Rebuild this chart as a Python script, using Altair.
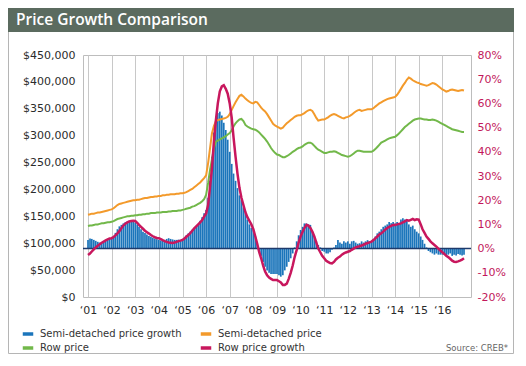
import altair as alt
import pandas as pd

# ---- data (monthly, Jan 2001 .. Dec 2016) ----
months = pd.date_range("2001-01-01", "2016-12-01", freq="MS")

# Semi-detached price, $ thousands
semi_price_k = [
    153, 154, 155, 155, 156, 157, 157, 158, 159, 160, 161, 162,   # 2001
    163, 165, 168, 171, 173, 174, 175, 176, 177, 178, 179, 180,   # 2002
    180, 181, 181, 182, 183, 184, 184, 185, 186, 186, 187, 187,   # 2003
    188, 188, 189, 189, 190, 190, 191, 191, 191, 192, 192, 193,   # 2004
    193, 194, 195, 197, 199, 201, 204, 207, 210, 213, 217, 221,   # 2005
    226, 249, 275, 304, 318, 327, 329, 330, 331, 332, 333, 335,   # 2006
    340, 348, 355, 362, 368, 374, 376, 373, 369, 366, 363, 361,   # 2007
    360, 363, 362, 357, 352, 348, 345, 340, 334, 328, 322, 319,   # 2008
    317, 315, 313, 315, 319, 323, 326, 329, 332, 335, 337, 338,   # 2009
    338, 340, 342, 345, 347, 348, 346, 340, 333, 328, 329, 330,   # 2010
    330, 332, 334, 337, 339, 340, 339, 337, 335, 333, 332, 334,   # 2011
    335, 337, 339, 342, 345, 347, 348, 346, 347, 348, 349, 349,   # 2012
    349, 351, 354, 357, 360, 362, 364, 366, 368, 369, 370, 371,   # 2013
    372, 376, 381, 387, 393, 398, 404, 408, 406, 403, 401, 399,   # 2014
    398, 396, 395, 394, 393, 394, 396, 398, 397, 395, 392, 389,   # 2015
    386, 384, 382, 383, 385, 386, 385, 384, 383, 384, 385, 384,   # 2016
]

# Row price, $ thousands
row_price_k = [
    132, 133, 133, 134, 135, 135, 136, 137, 137, 138, 139, 139,   # 2001
    140, 141, 143, 145, 146, 147, 148, 149, 150, 150, 151, 151,   # 2002
    152, 152, 153, 153, 154, 154, 155, 155, 156, 156, 156, 157,   # 2003
    157, 157, 158, 158, 158, 159, 159, 160, 160, 160, 161, 161,   # 2004
    162, 163, 164, 165, 166, 168, 169, 171, 173, 175, 178, 182,   # 2005
    190, 212, 235, 256, 276, 289, 291, 293, 295, 297, 299, 302,   # 2006
    305, 310, 317, 323, 327, 330, 331, 327, 320, 317, 315, 313,   # 2007
    312, 311, 309, 306, 302, 298, 294, 289, 283, 277, 272, 268,   # 2008
    265, 264, 262, 260, 260, 262, 264, 267, 270, 272, 275, 277,   # 2009
    278, 280, 283, 285, 287, 287, 285, 281, 277, 274, 272, 270,   # 2010
    268, 268, 269, 270, 270, 271, 270, 268, 266, 264, 263, 262,   # 2011
    261, 262, 264, 267, 270, 272, 272, 271, 270, 270, 270, 270,   # 2012
    270, 272, 275, 279, 283, 287, 289, 291, 293, 295, 296, 297,   # 2013
    298, 301, 304, 308, 312, 316, 319, 322, 325, 328, 330, 331,   # 2014
    332, 332, 331, 330, 330, 329, 329, 330, 329, 328, 326, 324,   # 2015
    322, 320, 318, 316, 314, 312, 311, 310, 309, 308, 307, 307,   # 2016
]

# Row price growth, %
row_growth = [
    -2.6, -2.0, -1.2, -0.3, 0.5, 1.2, 1.8, 2.4, 2.9, 3.4, 3.8, 4.2,        # 2001
    4.3, 4.8, 5.5, 6.3, 7.2, 8.4, 9.5, 10.3, 10.8, 11.2, 11.4, 11.5,       # 2002
    11.4, 10.6, 9.8, 9.0, 8.2, 7.4, 6.8, 6.2, 5.6, 5.1, 4.7, 4.4,          # 2003
    4.3, 3.9, 3.5, 3.1, 2.8, 2.5, 2.4, 2.3, 2.5, 2.8, 3.1, 3.3,            # 2004
    3.6, 4.2, 4.9, 5.6, 6.4, 7.4, 8.4, 9.2, 10.0, 10.8, 11.8, 13.2,        # 2005
    14.5, 18, 25, 33, 44, 53, 60, 65, 67, 67.5, 66, 64,                     # 2006
    60, 54, 46, 38, 31, 25, 21, 18, 15, 13, 11.5, 10,                       # 2007
    8, 5, 2, -1.5, -4, -7, -9.5, -11, -12, -12.5, -13, -13,                 # 2008
    -13, -13.5, -14, -15, -15, -14.5, -12.5, -10, -7, -3.5, -0.6, 2.5,      # 2009
    5, 7, 8.5, 9.8, 9.5, 8.5, 7, 5, 2.5, 0, -1.5, -3,                       # 2010
    -4, -5, -5.5, -6, -6.1, -5.5, -4.5, -3.8, -3.3, -2.5, -2, -1.6,         # 2011
    -1.3, -1, -0.5, 0, 0.5, 0.8, 1, 1.3, 1.6, 2, 2.3, 2.6,                  # 2012
    2.9, 3.5, 4.2, 5, 5.8, 6.3, 7, 7.8, 8.5, 9, 9.4, 9.8,                   # 2013
    9.8, 10, 10.2, 10.4, 10.8, 11.2, 11.8, 11.5, 11.9, 12.3, 11.8, 12.1,    # 2014
    12, 10, 8, 6.5, 5, 4, 3, 2.2, 1.5, 0.8, 0, -0.8,                        # 2015
    -1.5, -2.2, -3, -3.5, -4.2, -5, -5.4, -5.5, -5.3, -5, -4.6, -4,         # 2016
]

# Semi-detached price growth, %
semi_growth = [
    3.6, 4.2, 4.0, 3.6, 3.2, 2.8, 2.5, 2.4, 2.8, 3.2, 3.6, 4.0,            # 2001
    4.3, 5.2, 6.5, 8.0, 9.2, 9.8, 10.4, 10.9, 11.2, 11.5, 11.8, 11.6,      # 2002
    10.8, 10.0, 9.0, 8.0, 7.0, 6.4, 5.8, 5.2, 4.9, 4.5, 4.2, 3.9,          # 2003
    3.6, 3.4, 3.2, 3.3, 4.0, 4.3, 4.0, 3.8, 3.6, 3.6, 3.7, 3.6,            # 2004
    3.8, 4.5, 5.5, 6.3, 7.0, 7.8, 8.5, 9.0, 10.0, 11.5, 13.0, 14.6,        # 2005
    16, 21, 28, 38, 48, 54, 56, 56.6, 55, 52, 49, 45,                       # 2006
    40, 35, 31, 28, 25, 22, 20, 17, 14.6, 12, 10, 8.5,                      # 2007
    7.7, 5, 2.2, -0.5, -3, -5.5, -7.5, -9, -10, -10.5, -10.5, -10.5,        # 2008
    -10.5, -11, -11.6, -11, -9, -7.5, -5.5, -4, -2, 0.5, 3, 5.5,            # 2009
    7.7, 9, 10.4, 10.4, 10, 9.8, 7, 4.9, 3, 1.5, 0.5, -1,                   # 2010
    -1.3, -2, -2, -1.5, -0.5, 0.5, 1.5, 3.6, 2.5, 2, 3, 2.5,                # 2011
    3, 2, 3, 3.2, 2.5, 2, 2.2, 3, 2.5, 3, 3.5, 3,                           # 2012
    3, 4, 5, 6.3, 7, 8, 9, 9.5, 10, 11, 10.5, 11,                           # 2013
    10.4, 11, 10.5, 12, 12.5, 12, 11.5, 10, 9, 9.5, 8, 7,                   # 2014
    6.3, 5, 3.6, 2, 0.5, -1, -1.5, -2, -2.5, -2, -2.5, -2.5,                # 2015
    -2.5, -2, -3, -2.5, -2, -3, -2.5, -2.8, -2.2, -2.5, -2.8, -2.5,         # 2016
]

# legend order (column-major in a 2-column legend)
series_names = ["Semi-detached price growth", "Row price", "Semi-detached price", "Row price growth"]
series_colors = ["#1b75bb", "#72b84a", "#f39a2b", "#c8175d"]
year_ticks = list(range(2001, 2017))
price_ticks = list(range(0, 450001, 50000))
pct_ticks = list(range(-20, 81, 10))
title_text = ["Price Growth Comparison"]
source_text = ["Source: CREB*"]

# ---- tables ----
price_df = pd.DataFrame({
    "date": list(months) * 2,
    "value": [v * 1000 for v in semi_price_k] + [v * 1000 for v in row_price_k],
    "series": ["Semi-detached price"] * len(months) + ["Row price"] * len(months),
})
bar_df = pd.DataFrame({"date": months, "value": semi_growth,
                       "series": "Semi-detached price growth"})
red_df = pd.DataFrame({"date": months, "value": row_growth, "series": "Row price growth"})
title_df = pd.DataFrame({"label": title_text})
source_df = pd.DataFrame({"label": source_text})
one_df = pd.DataFrame({"k": [0]})

W, H = 388, 242
FONT = "DejaVu Sans"

x_scale = alt.Scale(domain=[alt.DateTime(year=2001, month=1, date=1),
                            alt.DateTime(year=2017, month=1, date=1)])
x_axis = alt.Axis(values=[alt.DateTime(year=y, month=1, date=1) for y in year_ticks],
                  format="\u2018%y", title=None, grid=True, gridColor="#c8c8c8",
                  gridWidth=1, ticks=False, domain=False, labelPadding=7,
                  labelFontSize=11, labelColor="#2b2b2b", labelFont=FONT,
                  labelFlush=False)
x_enc = alt.X("date:T", scale=x_scale, axis=x_axis)

pct_scale = alt.Scale(domain=[-20, 80], nice=False, zero=False)
price_scale = alt.Scale(domain=[0, 450000], nice=False)
color_scale = alt.Scale(domain=series_names, range=series_colors)

right_axis = alt.Axis(orient="right", values=pct_ticks, labelExpr="datum.value + '%'",
                      title=None, grid=False, ticks=False, domain=False,
                      labelPadding=6, labelFontSize=11, labelColor="#c2185b",
                      labelFont=FONT)
left_axis = alt.Axis(orient="left", values=price_ticks, format="$,.0f", title=None,
                     grid=False, ticks=False, domain=False, labelPadding=8,
                     labelFontSize=11, labelColor="#2b2b2b", labelFont=FONT)
legend = alt.Legend(title=None, orient="none", legendX=-62, legendY=272,
                    columns=2, columnPadding=11, rowPadding=0,
                    symbolType="stroke", symbolStrokeWidth=3.5,
                    symbolSize=110, labelFontSize=10, labelFont=FONT,
                    labelColor="#333333", labelOffset=5, padding=0)
color_enc = alt.Color("series:N", scale=color_scale, legend=legend)

# growth layer: bars + zero baseline share the right-hand y scale
bars = alt.Chart(bar_df).mark_bar(width=1.7).encode(
    x=x_enc,
    y=alt.Y("value:Q", scale=pct_scale, axis=right_axis),
    color=color_enc,
)
zero_rule = alt.Chart(bar_df).mark_rule(color="#1d3a6b", strokeWidth=1.5).encode(
    y=alt.Y("zero:Q", scale=pct_scale, axis=right_axis),
).transform_aggregate(n="count()").transform_calculate(zero="0")

price_lines = alt.Chart(price_df).mark_line(strokeWidth=2).encode(
    x=x_enc,
    y=alt.Y("value:Q", scale=price_scale, axis=left_axis),
    color=color_enc,
    detail="series:N",
)

# red line drawn last, same percentage domain, no extra axis
red_line = alt.Chart(red_df).mark_line(strokeWidth=2.5).encode(
    x=x_enc,
    y=alt.Y("value:Q", scale=pct_scale, axis=None),
    color=color_enc,
)

card = alt.Chart(one_df).mark_rect(fill="transparent", stroke="#b5b5b5", strokeWidth=1).encode(
    x=alt.value(-74.5), x2=alt.value(430.5), y=alt.value(-46.5), y2=alt.value(298.5))
banner = alt.Chart(one_df).mark_rect(fill="#5b6b5f").encode(
    x=alt.value(-75), x2=alt.value(431), y=alt.value(-47), y2=alt.value(-23))
title = alt.Chart(title_df).mark_text(align="left", baseline="alphabetic", fontSize=15.5,
                                      fontWeight=600, color="white", font="Open Sans").encode(
    x=alt.value(-67), y=alt.value(-30), text="label:N")
source = alt.Chart(source_df).mark_text(align="right", baseline="alphabetic", fontSize=8.5,
                                        color="#666666", font=FONT).encode(
    x=alt.value(425), y=alt.value(296), text="label:N")

chart = alt.layer(
    card, banner, title, source,
    alt.layer(bars, zero_rule),
    price_lines,
    red_line,
).resolve_scale(y="independent").properties(
    width=W, height=H,
    padding={"left": 75, "top": 47, "right": 47, "bottom": 61},
    autosize=alt.AutoSizeParams(type="none"),
    background="white",
).configure_view(stroke="#bdbdbd", strokeWidth=1)

chart.save("out.html", embed_options={"renderer": "svg", "actions": False})
